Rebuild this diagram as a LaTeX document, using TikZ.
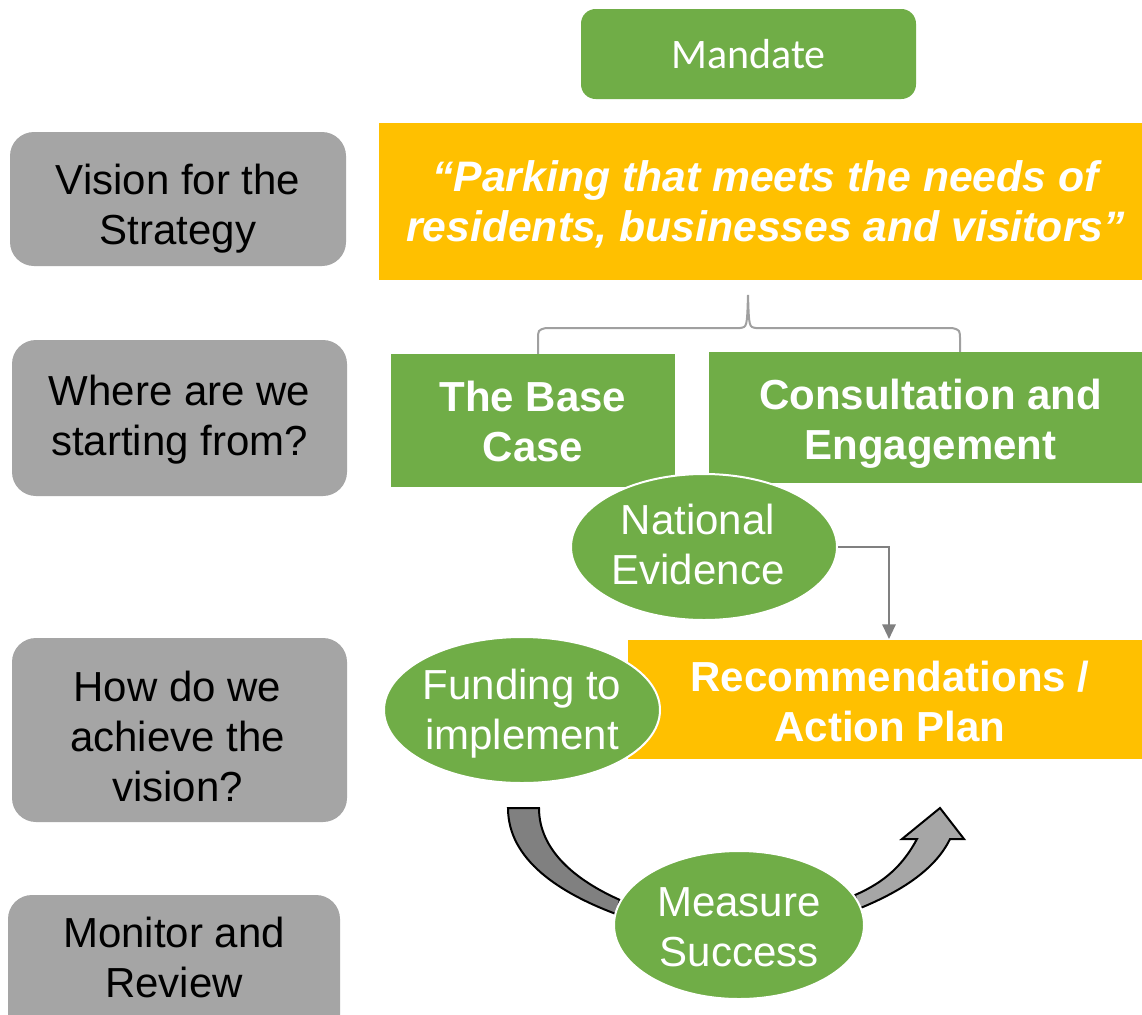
\documentclass[tikz,border=0pt]{standalone}
\usepackage{fontspec}
\setmainfont{Liberation Sans}
\newfontfamily\calib{Carlito}
\usetikzlibrary{shapes.geometric,arrows.meta}
\definecolor{grn}{HTML}{70AD47}
\definecolor{ylw}{HTML}{FFC000}
\definecolor{gbox}{HTML}{A5A5A5}
\definecolor{lgray}{HTML}{A6A6A6}
\definecolor{dgray}{HTML}{808080}
\definecolor{brc}{HTML}{A0A0A0}
\begin{document}
\begin{tikzpicture}[x=0.75pt,y=-0.75pt,
  sz/.style 2 args={minimum width=#1*0.75pt, minimum height=#2*0.75pt},
  shiftpx/.style 2 args={xshift=#1*0.75pt, yshift=-#2*0.75pt},
  big/.style={font=\fontsize{31.5}{37.5}\selectfont, align=center},
  bigb/.style={font=\fontsize{31.5}{37.5}\selectfont\bfseries, align=center, text=white},
  graybox/.style={fill=gbox, rounded corners=18pt, inner sep=0pt},
  greenbox/.style={fill=grn, inner sep=0pt},
  yellowbox/.style={fill=ylw, inner sep=0pt},
  oval/.style={ellipse, fill=grn, draw=white, line width=1.5pt, inner sep=0pt},
  ovaltext/.style={big, text=white},
  conn/.style={draw=dgray, line width=1.5pt, -{Triangle[width=10pt,length=11pt]}},
  curvarrow/.style={draw=black, line width=1.5pt, line join=miter}
]
\useasboundingbox (0,0) rectangle (1142,1014);
\fill[white] (0,0) rectangle (1142,1014);

% top box
\node[fill=grn, rounded corners=11pt, sz={335}{90}, inner sep=0pt, text=white,
  font=\calib\fontsize{31.5}{37.5}\selectfont] (mandate) at (748.5,54) {Mandate};

% left gray boxes
\node[graybox, sz={336}{134}, label={[big, shiftpx={0}{10}]center:Vision for the\\Strategy}] (vision) at (178,199) {};
\node[graybox, sz={335}{156}, label={[big, shiftpx={0}{2}]center:Where are we\\starting from?}] (where) at (179.5,418) {};
\node[graybox, sz={335}{184}, label={[big, shiftpx={-2}{6}]center:How do we\\achieve the\\vision?}] (how) at (179.5,730) {};
\node[graybox, sz={332}{150}, label={[big, shiftpx={0}{-13}]center:Monitor and\\Review}] (monitor) at (174,970) {};

% vision statement
\node[yellowbox, sz={763}{157}, label={[bigb, font=\fontsize{32}{37.5}\selectfont\bfseries\itshape, shiftpx={5}{3}]center:“Parking that meets the needs of\\residents, businesses and visitors”}] (visiontext) at (760.5,201.5) {};

% brace
\draw[brc, line width=1.5pt] (538,360) -- (538,340) .. controls (538,330) .. (546,328) -- (740,328)
  .. controls (747,327) .. (748,295) .. controls (749,327) .. (756,328) -- (952,328)
  .. controls (960,330) .. (960,340) -- (960,360);

% starting-point boxes
\node[greenbox, sz={284}{133}, label={[bigb, shiftpx={0}{1}]center:The Base\\Case}] (base) at (533,420.5) {};
\node[greenbox, sz={433}{131}, label={[bigb, shiftpx={5}{6}]center:Consultation and\\Engagement}] (consult) at (925.5,417.5) {};

% recommendations
\node[yellowbox, sz={514}{119}, label={[bigb, shiftpx={5}{2}]center:Recommendations /\\Action Plan}] (rec) at (885,699.5) {};

% national evidence
\node[oval, sz={266}{146}, label={[ovaltext, shiftpx={-6}{-3}]center:National\\Evidence}] (nat) at (704,547) {};
\coordinate (recin) at (889,639);
\draw[conn] (nat.east) -| (recin);

% funding
\node[oval, sz={276}{146}, label={[ovaltext, shiftpx={0}{4}]center:Funding to\\implement}] (fund) at (522,710) {};

% curved arrows
\filldraw[fill=dgray, curvarrow] (508,808) .. controls (508,860) and (560,893) .. (616,914)
  -- (620,900) .. controls (575,880) and (539,850) .. (539,808) -- cycle;
\filldraw[fill=lgray, curvarrow] (858,909) .. controls (900,892) and (935,870) .. (950,839)
  -- (964,839) -- (940,808) -- (902,839) -- (917,839)
  .. controls (903,865) and (885,882) .. (855,895) -- cycle;

% measure success
\node[oval, sz={250}{148}, label={[ovaltext, shiftpx={0}{2}]center:Measure\\Success}] (measure) at (739,925) {};
\end{tikzpicture}
\end{document}
